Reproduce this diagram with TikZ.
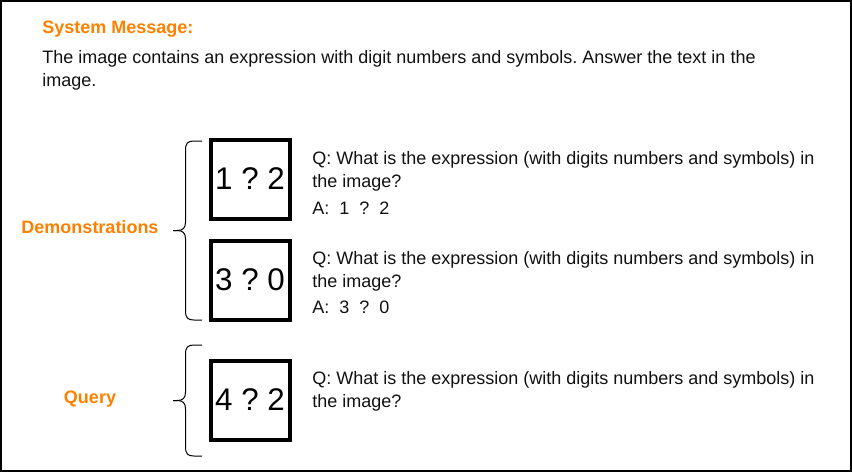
\documentclass[tikz,border=0pt]{standalone}
\usepackage{fontspec}
\setmainfont{Liberation Sans}
\frenchspacing
\usetikzlibrary{shadows}
\definecolor{sysorange}{HTML}{FF8000}
\definecolor{txt}{HTML}{111111}
\begin{document}
\begin{tikzpicture}[x=0.75pt,y=-0.75pt,
  lbl/.style={inner sep=0pt,anchor=base west,font=\fontsize{13.5pt}{17.25pt}\selectfont,text=txt},
  head/.style={inner sep=0pt,anchor=base,font=\fontsize{13.5pt}{17.25pt}\selectfont\bfseries,text=sysorange},
  imgbox/.style={draw=black,line width=3pt,fill=white,minimum width=59.25pt,minimum height=59.25pt,inner sep=0pt,
    font=\fontsize{23.5pt}{28pt}\selectfont,
    drop shadow={shadow xshift=1.5pt,shadow yshift=-1.5pt,opacity=0.4,fill=gray}},
  bracel/.style={draw=black,line width=0.75pt}]
\useasboundingbox (0,0) rectangle (852,472);
\draw[line width=1.3pt] (1,1) rectangle (851,471);

% system message
\node[lbl,font=\fontsize{13.5pt}{17.25pt}\selectfont\bfseries,text=sysorange] (sys) at (42,33.5) {System Message:};
\node[lbl] (sys1) at (42,63.5) {The image contains an expression with digit numbers and symbols. Answer the text in the};
\node[lbl] (sys2) at (42,86.5) {image.};

% labels
\node[head] (demo) at (90,233.5) {Demonstrations};
\node[head] (query) at (90,403.5) {Query};

% braces
\draw[bracel] (202,141) -- (194,141) .. controls (188,141) and (185.5,143) .. (185.5,150)
  -- (185.5,222) .. controls (185.5,228) and (183,230.5) .. (177,230.5) -- (173,230.5);
\draw[bracel] (173,230.5) -- (177,230.5) .. controls (183,230.5) and (185.5,233) .. (185.5,239)
  -- (185.5,311) .. controls (185.5,318) and (188,320) .. (194,320) -- (202,320);
\draw[bracel] (202,345) -- (194,345) .. controls (188,345) and (185.5,347) .. (185.5,354)
  -- (185.5,392) .. controls (185.5,398) and (183,400.5) .. (177,400.5) -- (173,400.5);
\draw[bracel] (173,400.5) -- (177,400.5) .. controls (183,400.5) and (185.5,403) .. (185.5,409)
  -- (185.5,447) .. controls (185.5,454) and (188,456) .. (194,456) -- (202,456);

% image boxes
\node[imgbox] (b1) at (250,179) {1 ? 2};
\node[imgbox] (b2) at (250,280) {3 ? 0};
\node[imgbox] (b3) at (250,400) {4 ? 2};

% questions / answers
\node[lbl] (q1a) at (312,164) {Q: What is the expression (with digits numbers and symbols) in};
\node[lbl] (q1b) at (312,187) {the image?};
\node[lbl] (a1) at (312,214) {A:\ \ 1\ \ ?\ \ 2};
\node[lbl] (q2a) at (312,264) {Q: What is the expression (with digits numbers and symbols) in};
\node[lbl] (q2b) at (312,287) {the image?};
\node[lbl] (a2) at (312,313) {A:\ \ 3\ \ ?\ \ 0};
\node[lbl] (q3a) at (312,384) {Q: What is the expression (with digits numbers and symbols) in};
\node[lbl] (q3b) at (312,407) {the image?};
\end{tikzpicture}
\end{document}
